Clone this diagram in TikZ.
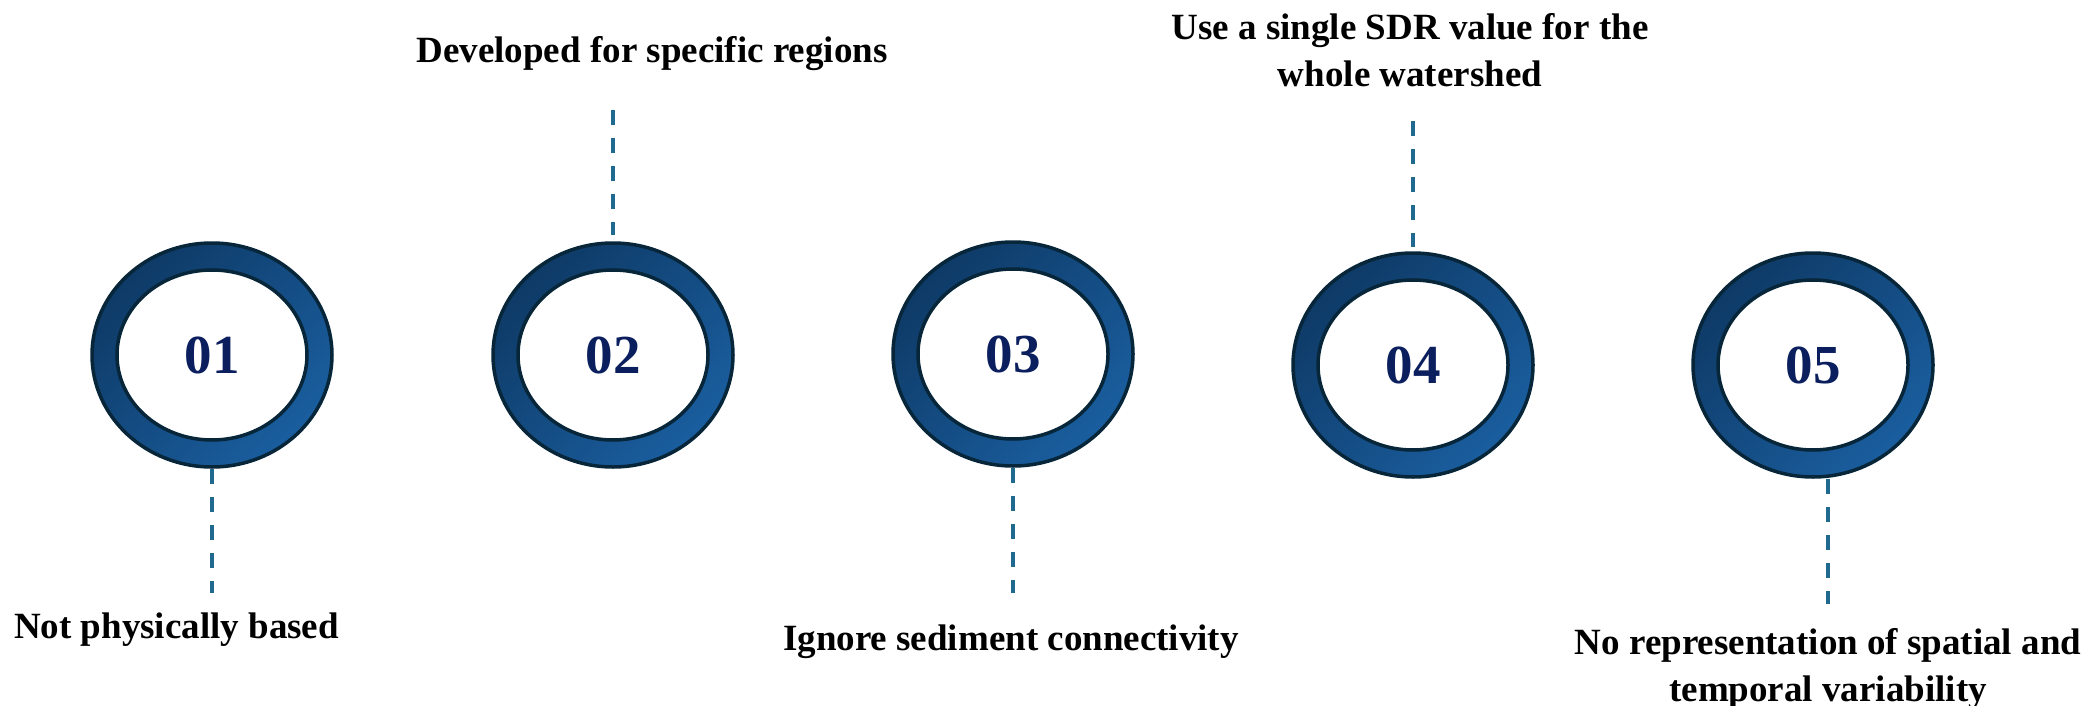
\documentclass[tikz,border=0pt]{standalone}
\usepackage{fontspec}
\setmainfont{Liberation Serif}
\usetikzlibrary{shapes.geometric}

\definecolor{ringdark}{HTML}{0E3A66}
\definecolor{ringlight}{HTML}{1A5E9F}
\definecolor{ringline}{HTML}{07263A}
\definecolor{numblue}{HTML}{0B1F5E}
\definecolor{leadblue}{HTML}{1F6A8E}

\tikzset{
  ring/.style={ellipse, draw=ringline, line width=3.5pt,
    top color=ringdark, bottom color=ringlight, shading angle=45,
    minimum width=240pt, minimum height=224pt, inner sep=0pt},
  hole/.style={ellipse, draw=ringline, line width=3.5pt, fill=white,
    minimum width=190pt, minimum height=170pt, inner sep=0pt,
    text=numblue, font=\fontsize{55}{55}\selectfont\bfseries},
  leader/.style={draw=leadblue, line width=4.5pt, dash pattern=on 15pt off 13pt},
  caption/.style={font=\fontsize{37}{47}\selectfont\bfseries, inner sep=0pt, align=center}
}

\begin{document}
\begin{tikzpicture}[x=1pt, y=-1pt]
  % canvas
  \fill[white] (0,0) rectangle (2087,706);
  \useasboundingbox (0,0) rectangle (2087,706);

  % rings
  \node[ring] (r1) at (212,355) {};
  \node[hole] (h1) at (r1.center) {01};
  \node[ring] (r2) at (613,355) {};
  \node[hole] (h2) at (r2.center) {02};
  \node[ring] (r3) at (1013,354) {};
  \node[hole] (h3) at (r3.center) {03};
  \node[ring] (r4) at (1413,365) {};
  \node[hole] (h4) at (r4.center) {04};
  \node[ring] (r5) at (1813,365) {};
  \node[hole] (h5) at (r5.center) {05};

  % leader ends
  \coordinate (c1) at (212,593);
  \coordinate (c2) at (613,110);
  \coordinate (c3) at (1013,593);
  \coordinate (c4) at (1413,121);
  \coordinate (c5) at (1828,604);

  % dashed leaders
  \draw[leader] (r1.south) -- (c1);
  \draw[leader] (c2) -- ([yshift=6pt]r2.north);
  \draw[leader] (r3.south) -- (c3);
  \draw[leader] (c4) -- ([yshift=4pt]r4.north);
  \draw[leader] ([xshift=15pt]r5.south) -- (c5);

  % captions (base anchor = baseline of the last line)
  \node[caption, anchor=base] (t1) at (176.5,638) {Not physically based};
  \node[caption, anchor=base] (t2) at (652,63) {Developed for specific regions};
  \node[caption, anchor=base] (t3) at (1011,650) {Ignore sediment connectivity};
  \node[caption, anchor=base] (t4) at (1410,87) {Use a single SDR value for the\\whole watershed};
  \node[caption, anchor=base] (t5) at (1828,701) {No representation of spatial and\\temporal variability};
\end{tikzpicture}
\end{document}
